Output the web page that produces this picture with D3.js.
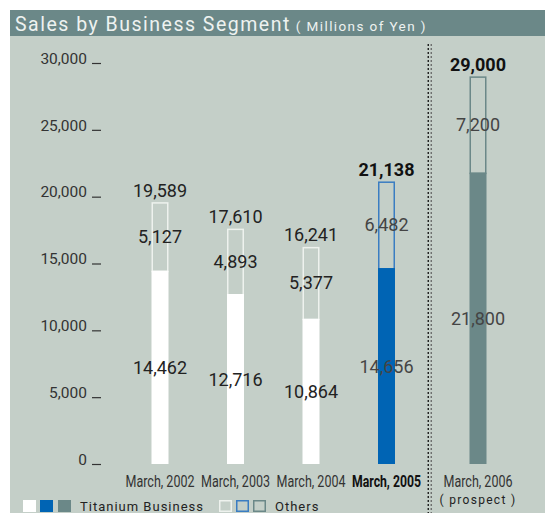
<!DOCTYPE html>
<html>
<head>
<meta charset="utf-8">
<script src="https://cdn.jsdelivr.net/npm/d3@7"></script>
<style>
  html, body { margin: 0; padding: 0; background: #ffffff; }
  svg { display: block; }
  text { font-family: Roboto, "Noto Sans", "DejaVu Sans", sans-serif; }
</style>
</head>
<body>
<svg id="chart" width="545" height="513"></svg>
<script>
// Sales by business segment, millions of yen
const categories = ["March, 2002", "March, 2003", "March, 2004", "March, 2005", "March, 2006"];
const titanium = [14462, 12716, 10864, 14656, 21800];
const others = [5127, 4893, 5377, 6482, 7200];
const totals = [19589, 17610, 16241, 21138, 29000];
const yTicks = [0, 5000, 10000, 15000, 20000, 25000, 30000];
const prospectNote = "( prospect )";

const W = 545, H = 513;
const svg = d3.select("#chart");

const panel = "#c4cfc8";
const teal = "#6b8888";
const blue = "#0064b4";
const fills = ["#ffffff", "#ffffff", "#ffffff", blue, teal];
const strokes = ["#eef2ee", "#eef2ee", "#eef2ee", "#3a7dc2", teal];
const labelColor = ["#222", "#222", "#222", "#444", "#444"];
const fmt = d3.format(",");

// background panel and title bar
svg.append("rect").attr("x", 10).attr("y", 10).attr("width", W - 10).attr("height", H - 10).attr("fill", panel);
svg.append("rect").attr("x", 10).attr("y", 10).attr("width", W - 10).attr("height", 26).attr("fill", teal);
const title = svg.append("text").attr("x", 15).attr("y", 31).attr("fill", "#eef2f0");
title.append("tspan").attr("font-size", 19.5).attr("letter-spacing", 1.5).text("Sales by Business Segment");
title.append("tspan").attr("font-size", 13.5).attr("letter-spacing", 1.4).attr("dx", 5).text("( Millions of Yen )");

// scales
const y = d3.scaleLinear().domain([0, 30000]).range([464, 63]);
const x = d3.scalePoint().domain(categories).range([160, 462]);
const prospectGap = 16;
const isProspect = i => i === categories.length - 1;
const cx = (c, i) => x(c) + (isProspect(i) ? prospectGap : 0);
const bw = 17;

// y axis: labels with an underscore-like tick to the right
const yAxis = d3.axisLeft(y).tickValues(yTicks).tickSize(9).tickPadding(5).tickFormat(fmt);
const ya = svg.append("g").attr("transform", "translate(101,0)").call(yAxis);
ya.select(".domain").remove();
ya.selectAll(".tick line").attr("stroke", "#333").attr("stroke-width", 1.2);
ya.selectAll(".tick text").attr("fill", "#333").attr("font-size", 15.5)
  .attr("font-family", "Roboto, sans-serif").attr("dy", "0.02em");

// dotted divider before the prospect column
const divX = (cx(categories[3], 3) + cx(categories[4], 4)) / 2 - 4;
svg.append("line").attr("x1", divX).attr("x2", divX).attr("y1", 44).attr("y2", H)
  .attr("stroke", "#111").attr("stroke-width", 1.3).attr("stroke-dasharray", "2,2");
svg.append("line").attr("x1", divX + 3).attr("x2", divX + 3).attr("y1", 44).attr("y2", H)
  .attr("stroke", "#666").attr("stroke-width", 1.3).attr("stroke-dasharray", "2,2");

// bars
const g = svg.append("g");
categories.forEach((c, i) => {
  const xc = cx(c, i);
  // others segment (outlined)
  g.append("rect").attr("x", xc - bw / 2 + 0.75).attr("y", y(totals[i]) + 0.75)
    .attr("width", bw - 1.5).attr("height", y(titanium[i]) - y(totals[i]))
    .attr("fill", "none").attr("stroke", strokes[i]).attr("stroke-width", 1.5);
  // titanium segment
  g.append("rect").attr("x", xc - bw / 2).attr("y", y(titanium[i]))
    .attr("width", bw).attr("height", y(0) - y(titanium[i]))
    .attr("fill", fills[i]);

  const bold = i >= 3;
  // total above bar
  g.append("text").attr("x", xc).attr("y", y(totals[i]) - 5.5).attr("text-anchor", "middle")
    .attr("font-size", 18).attr("font-weight", bold ? 700 : 400).attr("fill", bold ? "#111" : "#222")
    .text(fmt(totals[i]));
  // others value
  g.append("text").attr("x", xc).attr("y", (y(totals[i]) + y(titanium[i])) / 2 + 6.5)
    .attr("text-anchor", "middle").attr("font-size", 18).attr("fill", labelColor[i])
    .text(fmt(others[i]));
  // titanium value
  g.append("text").attr("x", xc).attr("y", (y(titanium[i]) + y(0)) / 2 + 6.5)
    .attr("text-anchor", "middle").attr("font-size", 18).attr("fill", labelColor[i])
    .text(fmt(titanium[i]));

  // category label, horizontally condensed to fit its column
  const lab = g.append("text").attr("x", 0).attr("y", 0).attr("text-anchor", "middle")
    .attr("font-size", 16).attr("font-weight", i === 3 ? 700 : 400)
    .attr("fill", i === 3 ? "#111" : "#333")
    .text(c);
  const natural = lab.node().getComputedTextLength();
  lab.attr("transform", `translate(${xc},487) scale(${69 / natural},1)`);
  if (isProspect(i)) {
    g.append("text").attr("x", xc).attr("y", 504).attr("text-anchor", "middle")
      .attr("font-size", 12).attr("letter-spacing", 1.3).attr("fill", "#222")
      .text(prospectNote);
  }
});

// legend
const leg = svg.append("g");
const sw = 13, sh = 12, ly = 500;
[fills[0], blue, teal].forEach((f, k) => {
  leg.append("rect").attr("x", [23, 40, 58][k]).attr("y", ly).attr("width", sw).attr("height", sh).attr("fill", f);
});
leg.append("text").attr("x", 80).attr("y", 511).attr("font-size", 13).attr("letter-spacing", 1)
  .attr("fill", "#222").text("Titanium Business");
[strokes[0], strokes[3], strokes[4]].forEach((s, k) => {
  leg.append("rect").attr("x", [219, 236, 253][k] + 0.75).attr("y", ly + 0.75).attr("width", sw - 1.5).attr("height", sh - 1.5)
    .attr("fill", "none").attr("stroke", s).attr("stroke-width", 1.5);
});
leg.append("text").attr("x", 275).attr("y", 511).attr("font-size", 13).attr("letter-spacing", 1)
  .attr("fill", "#222").text("Others");
</script>
</body>
</html>
